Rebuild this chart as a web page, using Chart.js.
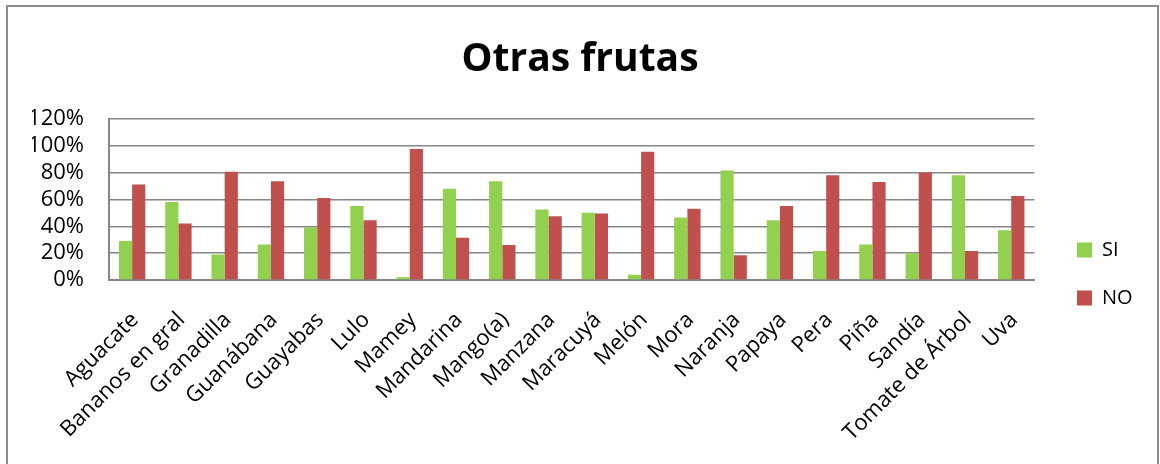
<!DOCTYPE html>
<html>
<head>
<meta charset="utf-8">
<script src="https://cdn.jsdelivr.net/npm/chart.js@4/dist/chart.umd.min.js"></script>
<style>
  html, body { margin: 0; padding: 0; background: #ffffff; }
  #wrap { width: 1160px; height: 464px; position: relative; }
</style>
</head>
<body>
<div id="wrap"><canvas id="c"></canvas></div>
<script>
const categories = ["Aguacate", "Bananos en gral", "Granadilla", "Guanábana", "Guayabas", "Lulo", "Mamey", "Mandarina", "Mango(a)", "Manzana", "Maracuyá", "Melón", "Mora", "Naranja", "Papaya", "Pera", "Piña", "Sandía", "Tomate de Árbol", "Uva"];
const siValues = [29, 58, 19, 26.5, 39, 55, 2, 68, 73.5, 52.5, 50, 4, 46.5, 81.5, 44.5, 21.5, 26.5, 20, 78, 37];
const noValues = [71, 42, 80.5, 73.5, 61, 44.5, 97.5, 31.5, 26, 47.5, 49.5, 95.5, 53, 18.5, 55, 78, 73, 80, 21.5, 62.5];
const seriesNames = ["SI", "NO"];
const yTicks = [0, 20, 40, 60, 80, 100, 120];
const titleText = "Otras frutas";

const FONT = "'Open Sans', 'Noto Sans', sans-serif";

const framePlugin = {
  id: 'frame',
  beforeDraw(chart) {
    const ctx = chart.ctx;
    ctx.save();
    ctx.strokeStyle = '#8c8c8c';
    ctx.lineWidth = 2;
    ctx.strokeRect(7, 6, 1151, 480);
    ctx.restore();
  }
};

const legendPlacePlugin = {
  id: 'legendPlace',
  afterLayout(chart) {
    const lg = chart.legend;
    if (!lg) return;
    const w = lg.width;
    lg.left = 1077 - 28;
    lg.right = lg.left + w;
    lg.top = 212;
    lg.bottom = 464;
    lg.height = lg.bottom - lg.top;
  }
};

new Chart(document.getElementById('c'), {
  type: 'bar',
  data: {
    labels: categories,
    datasets: [
      { label: seriesNames[0], data: siValues, backgroundColor: '#92D050', borderWidth: 0 },
      { label: seriesNames[1], data: noValues, backgroundColor: '#C0504D', borderWidth: 0 }
    ]
  },
  options: {
    responsive: true,
    maintainAspectRatio: false,
    animation: false,
    devicePixelRatio: 1,
    layout: { padding: { top: 10, left: 32, right: 32, bottom: 0 } },
    datasets: { bar: { categoryPercentage: 0.57, barPercentage: 1.0 } },
    plugins: {
      title: {
        display: true,
        text: titleText,
        color: '#000000',
        font: { family: FONT, size: 39, weight: 'bold' },
        padding: { top: 26, bottom: 36 }
      },
      legend: {
        position: 'right',
        align: 'start',
        labels: {
          color: '#000000',
          font: { family: FONT, size: 20 },
          boxWidth: 15,
          boxHeight: 15,
          padding: 28
        }
      },
      tooltip: { enabled: false }
    },
    scales: {
      x: {
        grid: { display: false, drawTicks: false },
        border: { display: true, color: '#868686', width: 2 },
        afterFit(axis) {
          axis.paddingLeft = 0;
          axis.paddingRight = 0;
          axis.height = 184;
        },
        ticks: {
          color: '#000000',
          font: { family: FONT, size: 22 },
          minRotation: 45,
          maxRotation: 45,
          autoSkip: false,
          padding: 27,
          labelOffset: 3
        }
      },
      y: {
        min: 0,
        max: 120,
        afterBuildTicks(axis) { axis.ticks = yTicks.map(v => ({ value: v })); },
        afterFit(axis) { axis.width = 77; },
        grid: { color: '#868686', lineWidth: 1.5, drawTicks: false },
        border: { display: true, color: '#868686', width: 2 },
        ticks: {
          color: '#000000',
          font: { family: FONT, size: 22 },
          padding: 25,
          autoSkip: false,
          callback: v => v + '%'
        }
      }
    }
  },
  plugins: [framePlugin, legendPlacePlugin]
});
</script>
</body>
</html>
